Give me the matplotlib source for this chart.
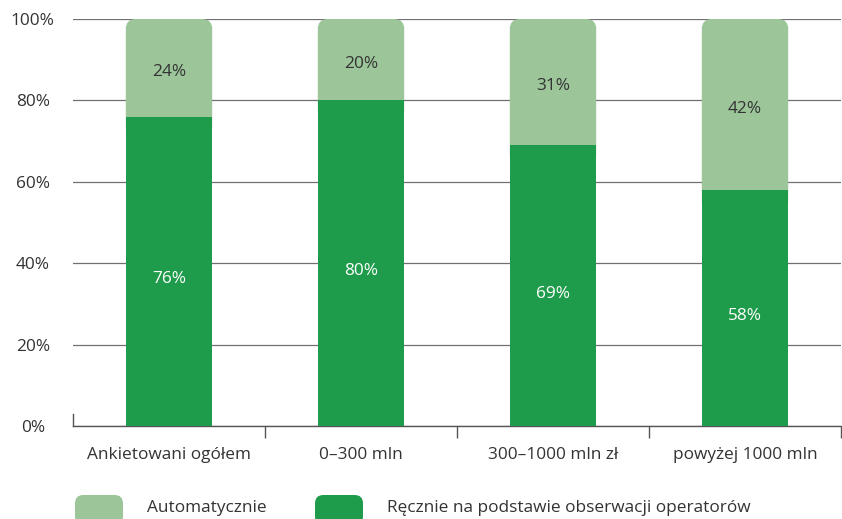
import matplotlib.pyplot as plt
from matplotlib.patches import FancyBboxPatch

plt.rcParams['font.family'] = ['Open Sans', 'DejaVu Sans']

kategorie = ["Ankietowani ogółem", "0–300 mln", "300–1000 mln zł", "powyżej 1000 mln"]
recznie = [76, 80, 69, 58]
automatycznie = [24, 20, 31, 42]
y_ticks = [0, 20, 40, 60, 80, 100]

c_ciemny = "#1f9c4b"
c_jasny = "#9cc69a"
c_tekst = "#333333"
fs = 12.4

fig = plt.figure(figsize=(8.42, 5.19), dpi=100)
ax = fig.add_axes([73 / 842, 1 - 426 / 519, 768 / 842, 407 / 519])

x = range(len(kategorie))
szer = 0.45
ax.set_xlim(-0.5, len(kategorie) - 0.5)
ax.set_ylim(0, 100)

# proporcja osi do zaokrągleń w jednostkach danych
px_x = 768 / len(kategorie)
px_y = 407 / 100
aspect = px_x / px_y
r = 10 / px_x

for i in x:
    dol = recznie[i]
    gora = dol + automatycznie[i]
    # górny segment z zaokrąglonymi rogami, dolne rogi chowa ciemny słupek
    p = FancyBboxPatch((i - szer / 2, dol - 5), szer, gora - dol + 5,
                       boxstyle=f"round,pad=0,rounding_size={r}",
                       mutation_aspect=aspect, fc=c_jasny, ec="none", zorder=2)
    ax.add_patch(p)
    ax.text(i, dol + automatycznie[i] / 2 - 1, f"{automatycznie[i]}%", ha="center",
            va="center", fontsize=fs, color=c_tekst, zorder=4)

ax.bar(x, recznie, width=szer, color=c_ciemny, zorder=3)
for i in x:
    ax.text(i, recznie[i] / 2 - 2, f"{recznie[i]}%", ha="center", va="center",
            fontsize=fs, color="white", zorder=4)

# siatka i osie
ax.set_yticks(y_ticks)
ax.set_yticklabels([f"{v}%" for v in y_ticks])
ax.yaxis.grid(True, color="#707070", linewidth=0.9, zorder=1)
ax.set_axisbelow(True)
for s in ["top", "right", "left"]:
    ax.spines[s].set_visible(False)
ax.spines["bottom"].set_color("#555555")
ax.spines["bottom"].set_linewidth(1.0)
ax.tick_params(axis="y", length=0, pad=29, labelsize=fs, labelcolor=c_tekst)
for lab in ax.get_yticklabels():
    lab.set_horizontalalignment("center")

ax.set_xticks(list(x))
ax.set_xticklabels(kategorie)
ax.tick_params(axis="x", which="major", length=0, pad=15, labelsize=fs,
               labelcolor=c_tekst)
ax.set_xticks([i + 0.5 for i in x], minor=True)
ax.tick_params(axis="x", which="minor", length=8.5, width=1.0, color="#555555",
               direction="out")
ax.axvline(-0.5, ymin=0, ymax=0.03, color="#555555", linewidth=1.0, clip_on=False)

# legenda na dole
legenda = [("Automatycznie", c_jasny, 75), ("Ręcznie na podstawie obserwacji operatorów", c_ciemny, 315)]
for nazwa, kolor, x0 in legenda:
    box = FancyBboxPatch((x0 / 842, 1 - 525 / 519), 48 / 842, 30 / 519,
                         boxstyle="round,pad=0,rounding_size=0.01",
                         mutation_aspect=842 / 519,
                         transform=fig.transFigure, fc=kolor, ec="none")
    fig.patches.append(box)
    fig.text((x0 + 72) / 842, 1 - 508 / 519, nazwa, ha="left", va="center",
             fontsize=fs, color=c_tekst)

fig.savefig("out.png", dpi=100)
